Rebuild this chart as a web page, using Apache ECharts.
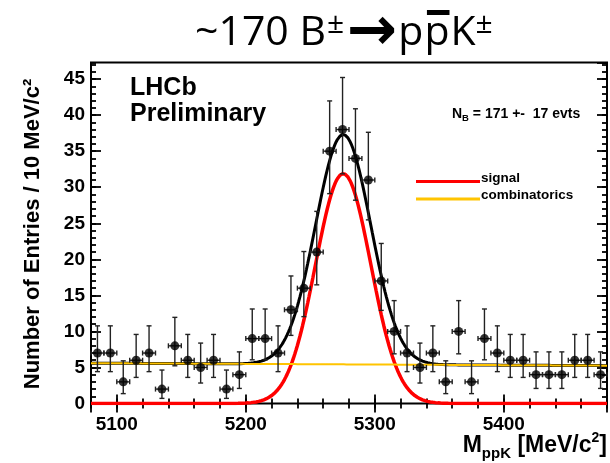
<!DOCTYPE html>
<html>
<head>
<meta charset="utf-8">
<script src="https://cdn.jsdelivr.net/npm/echarts@6/dist/echarts.min.js"></script>
<style>
  html, body { margin: 0; padding: 0; background: #ffffff; }
  #chart { width: 610px; height: 463px; }
</style>
</head>
<body>
<div id="chart"></div>
<script>
// ---- Data: B± → p p̄ K± candidates, 10 MeV/c² bins ----
const binCenters = [5085, 5095, 5105, 5115, 5125, 5135, 5145, 5155, 5165, 5175,
                    5185, 5195, 5205, 5215, 5225, 5235, 5245, 5255, 5265, 5275,
                    5285, 5295, 5305, 5315, 5325, 5335, 5345, 5355, 5365, 5375,
                    5385, 5395, 5405, 5415, 5425, 5435, 5445, 5455, 5465, 5475];
const counts     = [7, 7, 3, 6, 7, 2, 8, 6, 5, 6,
                    2, 4, 9, 9, 7, 13, 16, 21, 35, 38,
                    34, 31, 17, 10, 7, 5, 7, 3, 10, 3,
                    9, 7, 6, 6, 4, 4, 4, 6, 6, 4];
// Poisson (68%) interval edges for each bin
const errLow     = [4.42, 4.42, 1.37, 3.62, 4.42, 0.71, 5.23, 3.62, 2.84, 3.62,
                    0.71, 2.09, 6.06, 6.06, 4.42, 9.45, 12.05, 16.46, 29.11, 31.86,
                    28.20, 25.47, 12.92, 6.89, 4.42, 2.84, 4.42, 1.37, 6.89, 1.37,
                    6.06, 4.42, 3.62, 3.62, 2.09, 2.09, 2.09, 3.62, 3.62, 2.09];
const errHigh    = [10.77, 10.77, 5.92, 9.58, 10.77, 4.64, 11.95, 9.58, 8.38, 9.58,
                    4.64, 7.16, 13.11, 13.11, 10.77, 17.69, 21.08, 26.65, 41.97, 45.22,
                    40.88, 37.62, 22.20, 14.27, 10.77, 8.38, 10.77, 5.92, 14.27, 5.92,
                    13.11, 10.77, 9.58, 9.58, 7.16, 7.16, 7.16, 9.58, 9.58, 7.16];

// Tick labels
const xTickLabels = [5100, 5200, 5300, 5400];
const yTickLabels = [0, 5, 10, 15, 20, 25, 30, 35, 40, 45];

// Axis ranges
const massMin = 5080, massMax = 5480;
const entriesMax = 47.3;
const binWidth = 10;

// Fit result: Gaussian signal on a linear combinatorial background
const signalYield = 171;
const signalYieldErr = 17;
const signalMean = 5275.5;
const signalSigma = 21.4;
const combAtMin = 5.6;
const combAtMax = 5.25;

// ---- Fit curves ----
function signalPdf(m) {
  const amp = signalYield * binWidth / (signalSigma * Math.sqrt(2 * Math.PI));
  const t = (m - signalMean) / signalSigma;
  return amp * Math.exp(-0.5 * t * t);
}
function combPdf(m) {
  return combAtMin + (combAtMax - combAtMin) * (m - massMin) / (massMax - massMin);
}
const curveMass = [];
for (let m = massMin; m <= massMax; m += 1) curveMass.push(m);
const signalCurve = curveMass.map(m => [m, signalPdf(m)]);
const combCurve = curveMass.map(m => [m, combPdf(m)]);
const totalCurve = curveMass.map(m => [m, signalPdf(m) + combPdf(m)]);

// ---- Text helpers ----
const SANS_BOLD = '"Liberation Sans", Arial, Helvetica, sans-serif';
const measureCtx = document.createElement('canvas').getContext('2d');
function fontOf(p) { return (p.weight || 'normal') + ' ' + p.size + 'px ' + p.family; }
function textWidth(text, font) { measureCtx.font = font; return measureCtx.measureText(text).width; }
// distance from the 'middle' line down to the alphabetic baseline
function baselineDrop(font) {
  measureCtx.font = font;
  measureCtx.textBaseline = 'alphabetic';
  const a = measureCtx.measureText('H').actualBoundingBoxAscent;
  measureCtx.textBaseline = 'middle';
  const b = measureCtx.measureText('H').actualBoundingBoxAscent;
  measureCtx.textBaseline = 'alphabetic';
  return a - b;
}
// Lays a run of text pieces on a common baseline
function textRun(pieces, x0, baseline, align) {
  const widths = pieces.map(p => textWidth(p.text, fontOf(p)) + (p.gap || 0));
  const total = widths.reduce((s, w) => s + w, 0);
  let x = x0;
  if (align === 'right') x -= total;
  if (align === 'center') x -= total / 2;
  const els = [];
  pieces.forEach((p, i) => {
    const font = fontOf(p);
    const drop = baselineDrop(font);
    els.push({
      type: 'text',
      x: x,
      y: baseline - (p.rise || 0) - drop,
      style: { text: p.text, font: font, fill: p.color || '#000', textAlign: 'left', textVerticalAlign: 'middle' }
    });
    if (p.overline) {
      const w = textWidth(p.text, font);
      els.push({
        type: 'rect',
        shape: { x: x + w * 0.1, y: baseline - p.overline.top, width: w * 0.9, height: p.overline.h },
        style: { fill: '#000' }
      });
    }
    x += widths[i];
  });
  return els;
}

// ---- Headings and annotations ----
const TITLE_FAMILY = '"Open Sans", Lato, sans-serif';
const titleEls = textRun([
  { text: '~170 B', size: 41, family: TITLE_FAMILY, gap: 1 },
  { text: '±', size: 30, family: TITLE_FAMILY, rise: 12, gap: 3 },
  { text: '→', size: 60, weight: 'bold', family: '"DejaVu Sans", sans-serif', rise: -4, gap: 1 },
  { text: 'p', size: 41, family: TITLE_FAMILY, gap: 1 },
  { text: 'p', size: 41, family: TITLE_FAMILY, gap: 1, overline: { top: 35, h: 5 } },
  { text: 'K', size: 41, family: TITLE_FAMILY },
  { text: '±', size: 30, family: TITLE_FAMILY, rise: 12 }
], 195, 45, 'left');

const lhcbEls = textRun([{ text: 'LHCb', size: 25, weight: 'bold', family: SANS_BOLD }], 130, 95, 'left')
  .concat(textRun([{ text: 'Preliminary', size: 25, weight: 'bold', family: SANS_BOLD }], 130, 121, 'left'));

const yieldEls = textRun([
  { text: 'N', size: 14, weight: 'bold', family: SANS_BOLD },
  { text: 'B', size: 9.5, weight: 'bold', family: SANS_BOLD, rise: -3 },
  { text: ' = ' + signalYield + ' +-  ' + signalYieldErr + ' evts', size: 14, weight: 'bold', family: SANS_BOLD }
], 452, 118, 'left');

const xTitleEls = textRun([
  { text: 'M', size: 23, weight: 'bold', family: SANS_BOLD },
  { text: 'ppK', size: 15, weight: 'bold', family: SANS_BOLD, rise: -6 },
  { text: ' [MeV/c', size: 23, weight: 'bold', family: SANS_BOLD },
  { text: '2', size: 14, weight: 'bold', family: SANS_BOLD, rise: 10 },
  { text: ']', size: 23, weight: 'bold', family: SANS_BOLD }
], 607, 452, 'right');

const legendItems = [
  { name: 'signal', color: '#ff0000', y: 181.5 },
  { name: 'combinatorics', color: '#ffc400', y: 199 }
];
const legendEls = [];
legendItems.forEach(it => {
  legendEls.push({
    type: 'line',
    shape: { x1: 416, y1: it.y, x2: 480, y2: it.y },
    style: { stroke: it.color, lineWidth: 3 }
  });
  legendEls.push.apply(legendEls, textRun([{ text: it.name, size: 13.5, weight: 'bold', family: SANS_BOLD }], 481, it.y, 'left'));
});

const yTitleEl = {
  type: 'text',
  x: 33, y: 234,
  rotation: Math.PI / 2,
  style: {
    text: 'Number of Entries / 10 MeV/c²',
    font: 'bold 22px ' + SANS_BOLD,
    fill: '#000', textAlign: 'center', textVerticalAlign: 'middle'
  }
};

// ---- Axes: minor and major tick sets on all four sides ----
const tickStyle = { color: '#000', width: 1.8 };
const labelStyle = { color: '#000', fontFamily: SANS_BOLD, fontWeight: 'bold', fontSize: 19 };
function xAxisDef(position, major) {
  const ax = {
    type: 'value', position: position, min: massMin, max: massMax,
    axisLine: { show: false }, splitLine: { show: false },
    axisTick: { show: true, inside: true, length: major ? 9 : 5, lineStyle: tickStyle },
    axisLabel: { show: false }
  };
  if (major) {
    ax.minInterval = 100; ax.maxInterval = 100;
    if (position === 'bottom') {
      ax.axisLabel = Object.assign({ show: true, margin: 12, showMinLabel: false, showMaxLabel: false,
        formatter: v => (xTickLabels.indexOf(v) >= 0 ? String(v) : '') }, labelStyle);
    }
  } else {
    ax.interval = 20;
  }
  return ax;
}
function yAxisDef(position, major) {
  const ax = {
    type: 'value', position: position, min: 0, max: entriesMax,
    interval: major ? 5 : 1,
    axisLine: { show: false }, splitLine: { show: false },
    axisTick: { show: true, inside: true, length: major ? 10 : 5, lineStyle: tickStyle },
    axisLabel: { show: false }
  };
  if (major && position === 'left') {
    ax.axisLabel = Object.assign({ show: true, margin: 6, showMaxLabel: false,
      formatter: v => (yTickLabels.indexOf(v) >= 0 ? String(v) : '') }, labelStyle);
  }
  return ax;
}

const chart = echarts.init(document.getElementById('chart'), null, { renderer: 'canvas' });
chart.setOption({
  animation: false,
  backgroundColor: '#ffffff',
  grid: {
    left: 91, right: 3, top: 62.5, bottom: 59.5,
    show: true, borderColor: '#000', borderWidth: 2, backgroundColor: 'transparent',
    containLabel: false, outerBoundsMode: 'none'
  },
  xAxis: [xAxisDef('bottom', true), xAxisDef('bottom', false), xAxisDef('top', true), xAxisDef('top', false)],
  yAxis: [yAxisDef('left', true), yAxisDef('left', false), yAxisDef('right', true), yAxisDef('right', false)],
  series: [
    {
      name: 'total', type: 'line', xAxisIndex: 0, yAxisIndex: 0,
      data: totalCurve, showSymbol: false, z: 2,
      lineStyle: { color: '#000', width: 3 }
    },
    {
      name: 'signal', type: 'line', xAxisIndex: 0, yAxisIndex: 0,
      data: signalCurve, showSymbol: false, z: 3,
      lineStyle: { color: '#ff0000', width: 3.5 }
    },
    {
      name: 'combinatorics', type: 'line', xAxisIndex: 0, yAxisIndex: 0,
      data: combCurve, showSymbol: false, z: 4,
      lineStyle: { color: '#ffc400', width: 2 }
    },
    {
      name: 'errors', type: 'custom', xAxisIndex: 0, yAxisIndex: 0, z: 5,
      data: binCenters.map((m, i) => [m, counts[i], errLow[i], errHigh[i]]),
      encode: { x: 0, y: 1 },
      renderItem: function (params, api) {
        const m = api.value(0), n = api.value(1);
        const top = api.coord([m, api.value(3)]);
        const bot = api.coord([m, api.value(2)]);
        const left = api.coord([m - binWidth / 2, n]);
        const right = api.coord([m + binWidth / 2, n]);
        const cap = 2.5;
        const st = { stroke: '#222', lineWidth: 1.4 };
        const seg = (x1, y1, x2, y2) => ({ type: 'line', shape: { x1, y1, x2, y2 }, style: st });
        return {
          type: 'group',
          children: [
            seg(top[0], top[1], bot[0], bot[1]),
            seg(top[0] - cap, top[1], top[0] + cap, top[1]),
            seg(bot[0] - cap, bot[1], bot[0] + cap, bot[1]),
            seg(left[0], left[1], right[0], right[1]),
            seg(left[0], left[1] - cap, left[0], left[1] + cap),
            seg(right[0], right[1] - cap, right[0], right[1] + cap)
          ]
        };
      }
    },
    {
      name: 'data', type: 'scatter', xAxisIndex: 0, yAxisIndex: 0, z: 6,
      data: binCenters.map((m, i) => [m, counts[i]]),
      symbol: 'circle', symbolSize: 9,
      itemStyle: { color: '#000' }
    }
  ],
  graphic: titleEls.concat(lhcbEls, yieldEls, xTitleEls, legendEls, [yTitleEl])
});
</script>
</body>
</html>
